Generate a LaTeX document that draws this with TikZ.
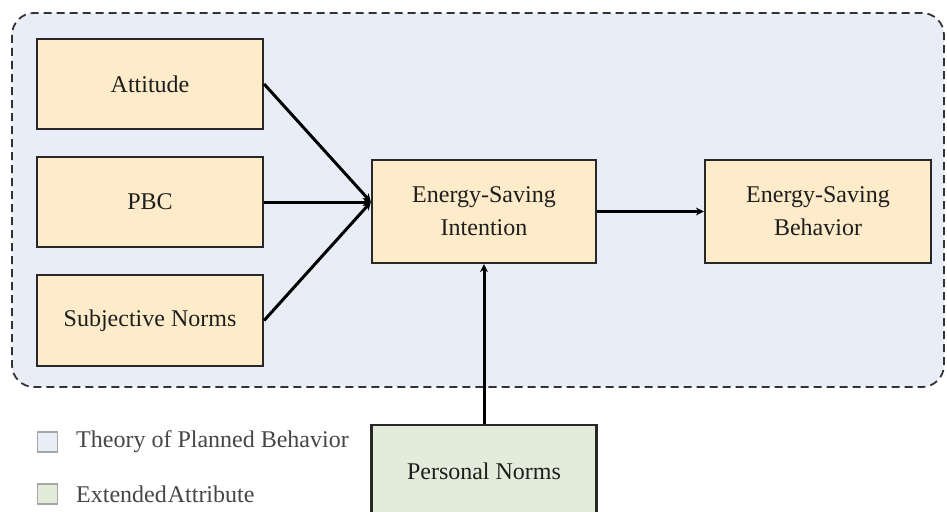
\documentclass[tikz,border=0pt]{standalone}
\usepackage{fontspec}
\setmainfont{Liberation Serif}
\usetikzlibrary{arrows.meta}
\definecolor{tpbback}{RGB}{233,237,247}
\definecolor{boxfill}{RGB}{253,235,201}
\definecolor{extfill}{RGB}{227,235,218}
\definecolor{boxline}{RGB}{40,40,40}
\definecolor{txt}{RGB}{30,30,30}
\definecolor{legtxt}{RGB}{70,70,70}
\begin{document}
\begin{tikzpicture}[x=1pt,y=-1pt,
  font=\fontsize{24}{33}\selectfont,
  concept/.style={draw=boxline, line width=2.2pt, fill=boxfill, text=txt,
    inner sep=0pt, align=center, minimum width=226pt, minimum height=90pt},
  link/.style={draw=black, line width=3pt, -{Stealth[length=8pt,width=8pt]}},
  legbox/.style={line width=1.3pt, minimum size=20pt, inner sep=0pt},
  legtext/.style={text=legtxt, anchor=west, inner sep=0pt}]
\useasboundingbox (0,0) rectangle (947,511);
\clip (0,0) rectangle (947,511);
\fill[white] (0,0) rectangle (947,511);

% Theory of Planned Behavior region
\draw[fill=tpbback, draw=black!80, line width=1.8pt, dash pattern=on 8pt off 5pt,
  rounded corners=22pt] (12,13) rectangle (944,387);

% TPB constructs
\node[concept] (att) at (150,84) {Attitude};
\node[concept] (pbc) at (150,202) {PBC};
\node[concept, minimum height=91pt] (sub) at (150,320.5) {Subjective Norms};
\node[concept, minimum width=224pt, minimum height=103pt] (int) at (484,211.5)
  {Energy-Saving\\Intention};
\node[concept, minimum height=103pt] (beh) at (818,211.5)
  {Energy-Saving\\Behavior};

% Extended attribute
\node[concept, fill=extfill, minimum width=225pt, minimum height=92pt,
  anchor=north] (pn) at (484,424) {Personal Norms};

% Paths
\coordinate (join) at (int.west |- pbc.east);
\draw[link] (att.east) -- (join);
\draw[link] (pbc.east) -- (join);
\draw[link] (sub.east) -- (join);
\draw[link] (int.east) -- (beh.west);
\draw[link] (pn.north) -- (int.south);

% Legend
\node[legbox, fill=tpbback, draw=black!35] (lg1) at (47.5,442) {};
\node[legtext] (lt1) at (76,442) {Theory of Planned Behavior};
\node[legbox, fill=extfill, draw=black!35] (lg2) at (47.5,494) {};
\node[legtext] (lt2) at (76,494) {Extended\hspace{1pt}Attribute};
\end{tikzpicture}
\end{document}
